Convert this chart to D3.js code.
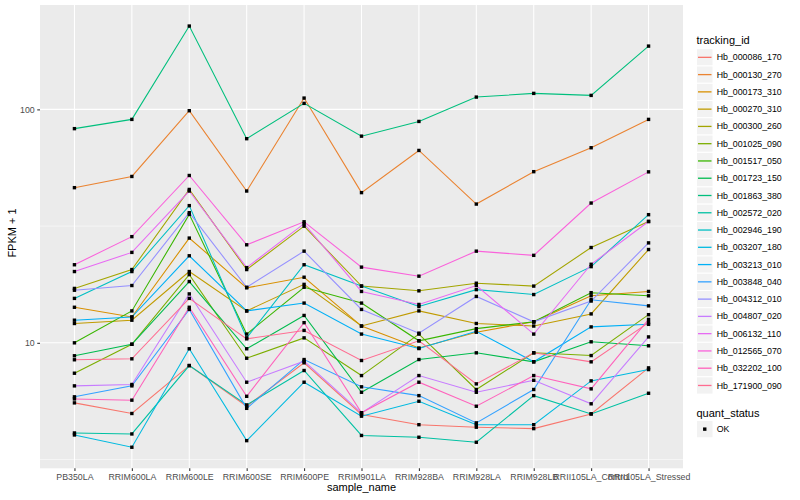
<!DOCTYPE html>
<html>
<head>
<meta charset="utf-8">
<script src="https://cdn.jsdelivr.net/npm/d3@7"></script>
<style>
  body { margin: 0; background: #fff; }
  text { font-family: "Liberation Sans", Arial, Helvetica, sans-serif; }
</style>
</head>
<body>
<div id="chart"></div>
<script>
// sample names on the x axis
var samples = ['PB350LA', 'RRIM600LA', 'RRIM600LE', 'RRIM600SE', 'RRIM600PE', 'RRIM901LA',
  'RRIM928BA', 'RRIM928LA', 'RRIM928LB', 'RRII105LA_Control', 'RRII105LA_Stressed'];

var trackingIds = ['Hb_000086_170', 'Hb_000130_270', 'Hb_000173_310', 'Hb_000270_310', 'Hb_000300_260',
  'Hb_001025_090', 'Hb_001517_050', 'Hb_001723_150', 'Hb_001863_380', 'Hb_002572_020',
  'Hb_002946_190', 'Hb_003207_180', 'Hb_003213_010', 'Hb_003848_040', 'Hb_004312_010',
  'Hb_004807_020', 'Hb_006132_110', 'Hb_012565_070', 'Hb_032202_100', 'Hb_171900_090'];

// FPKM + 1, one array per gene, in sample order
var hb000086_170 = [5.53, 4.98, 7.99, 5.35, 8.21, 4.93, 4.46, 4.35, 4.29, 4.96, 7.81];
var hb000130_270 = [46.2, 51.6, 98.7, 44.7, 111.8, 44.0, 66.7, 39.3, 54.1, 68.5, 90.6];
var hb000173_310 = [14.2, 12.9, 28.1, 17.2, 19.1, 11.8, 9.5, 11.1, 12.3, 15.9, 16.6];
var hb000270_310 = [12.1, 12.5, 20.2, 13.7, 17.8, 11.8, 13.7, 12.1, 11.8, 13.3, 25.1];
var hb000300_260 = [17.1, 20.6, 45.4, 20.6, 31.6, 17.5, 16.7, 18.0, 17.5, 25.6, 33.1];
var hb001025_090 = [7.41, 9.86, 19.6, 8.59, 10.5, 7.24, 10.9, 6.31, 9.06, 8.82, 13.2];
var hb001517_050 = [10.0, 13.7, 35.5, 10.9, 17.3, 14.8, 10.2, 11.5, 12.3, 16.4, 15.9];
var hb001723_150 = [8.80, 9.86, 18.3, 9.43, 13.1, 6.14, 8.48, 9.06, 8.29, 10.1, 9.71];
var hb001863_380 = [82.7, 90.6, 227.5, 74.9, 106.1, 76.8, 88.8, 112.9, 117.1, 114.8, 186.7];
var hb002572_020 = [4.11, 4.07, 7.99, 5.42, 7.61, 4.01, 3.94, 3.75, 5.94, 4.96, 6.08];
var hb002946_190 = [15.5, 20.2, 38.7, 10.5, 21.6, 17.5, 14.3, 16.9, 16.1, 21.2, 35.4];
var hb003207_180 = [4.03, 3.57, 9.43, 3.81, 6.78, 4.85, 5.62, 4.46, 4.46, 6.87, 7.68];
var hb003213_010 = [12.5, 12.9, 23.6, 13.7, 14.8, 10.9, 9.45, 11.2, 8.29, 11.7, 12.0];
var hb003848_040 = [5.87, 6.54, 13.9, 5.24, 8.48, 6.48, 5.94, 4.54, 6.31, 15.3, 14.4];
var hb004312_010 = [16.8, 17.6, 36.1, 17.3, 24.7, 13.9, 11.0, 15.8, 12.3, 15.1, 26.8];
var hb004807_020 = [6.54, 6.63, 16.2, 6.78, 8.34, 5.01, 7.24, 6.14, 6.91, 5.48, 10.6];
var hb006132_110 = [20.2, 24.4, 44.7, 21.0, 32.4, 16.6, 14.6, 17.6, 10.9, 21.7, 33.1];
var hb012565_070 = [21.6, 28.5, 52.1, 26.3, 33.0, 21.1, 19.3, 24.7, 23.7, 39.7, 54.0];
var hb032202_100 = [5.75, 5.68, 14.2, 5.90, 12.2, 5.02, 6.78, 5.35, 7.24, 6.35, 12.6];
var hb171900_090 = [8.46, 8.54, 15.5, 10.4, 11.3, 8.40, 10.2, 6.67, 9.06, 8.29, 12.2];

var seriesValues = [hb000086_170, hb000130_270, hb000173_310, hb000270_310, hb000300_260,
  hb001025_090, hb001517_050, hb001723_150, hb001863_380, hb002572_020,
  hb002946_190, hb003207_180, hb003213_010, hb003848_040, hb004312_010,
  hb004807_020, hb006132_110, hb012565_070, hb032202_100, hb171900_090];

var yTicks = [10, 100];
var quantStatus = ['OK'];

// ggplot hue palette
var palette = ['#F8766D', '#EA8331', '#D89000', '#C09B00', '#A3A500', '#7CAE00', '#39B600', '#00BB4E',
  '#00BF7D', '#00C1A3', '#00BFC4', '#00BAE0', '#00B0F6', '#35A2FF', '#9590FF', '#C77CFF',
  '#E76BF3', '#FA62DB', '#FF62BC', '#FF6C91'];

var width = 800, height = 500;
var panelLeft = 40, panelRight = 683, panelTop = 5, panelBottom = 468.3;

var series = trackingIds.map(function (id, i) {
  return {
    id: id,
    values: samples.map(function (s, j) { return { sample: s, value: seriesValues[i][j] }; })
  };
});

var svg = d3.select('#chart')
  .append('svg')
  .attr('width', width)
  .attr('height', height);

var x = d3.scalePoint()
  .domain(samples)
  .range([panelLeft, panelRight])
  .padding(0.6);

// log scale, 5% expansion in log space like ggplot
var allVals = d3.merge(seriesValues);
var lo = Math.log10(d3.min(allVals)), hi = Math.log10(d3.max(allVals));
var pad = (hi - lo) * 0.05;
var y = d3.scaleLog()
  .domain([Math.pow(10, lo - pad), Math.pow(10, hi + pad)])
  .range([panelBottom, panelTop]);

var color = d3.scaleOrdinal().domain(trackingIds).range(palette);

// panel
svg.append('rect')
  .attr('x', panelLeft).attr('y', panelTop)
  .attr('width', panelRight - panelLeft).attr('height', panelBottom - panelTop)
  .attr('fill', '#EBEBEB');

var grid = svg.append('g');
// minor grid at the log midpoints
grid.selectAll('.minor')
  .data([Math.pow(10, 0.5), Math.pow(10, 1.5), Math.pow(10, 2.5)].filter(function (d) {
    return d > y.domain()[0] && d < y.domain()[1];
  }))
  .enter().append('line')
  .attr('x1', panelLeft).attr('x2', panelRight)
  .attr('y1', function (d) { return y(d); })
  .attr('y2', function (d) { return y(d); })
  .attr('stroke', '#fff').attr('stroke-width', 0.53);
grid.selectAll('.hmajor')
  .data(yTicks)
  .enter().append('line')
  .attr('x1', panelLeft).attr('x2', panelRight)
  .attr('y1', function (d) { return y(d); })
  .attr('y2', function (d) { return y(d); })
  .attr('stroke', '#fff').attr('stroke-width', 1.07);
grid.selectAll('.vmajor')
  .data(samples)
  .enter().append('line')
  .attr('y1', panelTop).attr('y2', panelBottom)
  .attr('x1', function (d) { return x(d); })
  .attr('x2', function (d) { return x(d); })
  .attr('stroke', '#fff').attr('stroke-width', 1.07);

var line = d3.line()
  .x(function (d) { return x(d.sample); })
  .y(function (d) { return y(d.value); });

svg.append('g')
  .selectAll('path')
  .data(series)
  .enter().append('path')
  .attr('d', function (d) { return line(d.values); })
  .attr('fill', 'none')
  .attr('stroke', function (d) { return color(d.id); })
  .attr('stroke-width', 1.07);

// points (quant_status = OK)
var ptSize = 3.4;
svg.append('g')
  .selectAll('rect')
  .data(d3.merge(series.map(function (s) { return s.values; })))
  .enter().append('rect')
  .attr('x', function (d) { return x(d.sample) - ptSize / 2; })
  .attr('y', function (d) { return y(d.value) - ptSize / 2; })
  .attr('width', ptSize).attr('height', ptSize)
  .attr('fill', '#000');

// axes
var xAxis = svg.append('g')
  .attr('transform', 'translate(0,' + panelBottom + ')')
  .call(d3.axisBottom(x).tickSizeInner(2.75).tickSizeOuter(0).tickPadding(2.5));
var yAxis = svg.append('g')
  .attr('transform', 'translate(' + panelLeft + ',0)')
  .call(d3.axisLeft(y).tickValues(yTicks).tickFormat(d3.format('d')).tickSizeInner(2.75).tickSizeOuter(0).tickPadding(2.5));

[xAxis, yAxis].forEach(function (a) {
  a.select('.domain').remove();
  a.selectAll('.tick line').attr('stroke', '#333333').attr('stroke-width', 1.07);
  a.selectAll('.tick text').attr('fill', '#4D4D4D').style('font-size', '8.8px')
    .style('font-family', '"Liberation Sans", Arial, sans-serif');
});

svg.append('text')
  .attr('x', (panelLeft + panelRight) / 2).attr('y', 490.5)
  .attr('text-anchor', 'middle')
  .style('font-size', '11px')
  .text('sample_name');

svg.append('text')
  .attr('transform', 'translate(16.3,233) rotate(-90)')
  .attr('text-anchor', 'middle')
  .style('font-size', '11px')
  .text('FPKM + 1');

// legend: tracking_id
var keyH = 17.27, keyX = 696.5, keyW = 16.5, legTop = 48.7;
var legend = svg.append('g');
legend.append('text')
  .attr('x', keyX).attr('y', 44.3)
  .style('font-size', '11px')
  .text('tracking_id');

var rows = legend.selectAll('.row')
  .data(trackingIds)
  .enter().append('g')
  .attr('transform', function (d, i) { return 'translate(' + keyX + ',' + (legTop + i * keyH) + ')'; });
rows.append('rect')
  .attr('width', keyW).attr('height', keyH)
  .attr('fill', '#F2F2F2').attr('stroke', '#fff').attr('stroke-width', 1);
rows.append('line')
  .attr('x1', 1.5).attr('x2', keyW - 1.5)
  .attr('y1', keyH / 2).attr('y2', keyH / 2)
  .attr('stroke', function (d) { return color(d); })
  .attr('stroke-width', 1.3);
rows.append('text')
  .attr('x', keyW + 3.7).attr('y', keyH / 2)
  .attr('dy', '0.35em')
  .style('font-size', '8.8px')
  .text(function (d) { return d; });

// legend: quant_status
var q = svg.append('g');
q.append('text')
  .attr('x', keyX).attr('y', 416.5)
  .style('font-size', '11px')
  .text('quant_status');
var qRows = q.selectAll('.qrow')
  .data(quantStatus)
  .enter().append('g')
  .attr('transform', function (d, i) { return 'translate(' + keyX + ',' + (420.5 + i * keyH) + ')'; });
qRows.append('rect')
  .attr('width', keyW).attr('height', keyH)
  .attr('fill', '#F2F2F2').attr('stroke', '#fff').attr('stroke-width', 1);
qRows.append('rect')
  .attr('x', keyW / 2 - ptSize / 2).attr('y', keyH / 2 - ptSize / 2)
  .attr('width', ptSize).attr('height', ptSize)
  .attr('fill', '#000');
qRows.append('text')
  .attr('x', keyW + 3.7).attr('y', keyH / 2)
  .attr('dy', '0.35em')
  .style('font-size', '8.8px')
  .text(function (d) { return d; });
</script>
</body>
</html>
